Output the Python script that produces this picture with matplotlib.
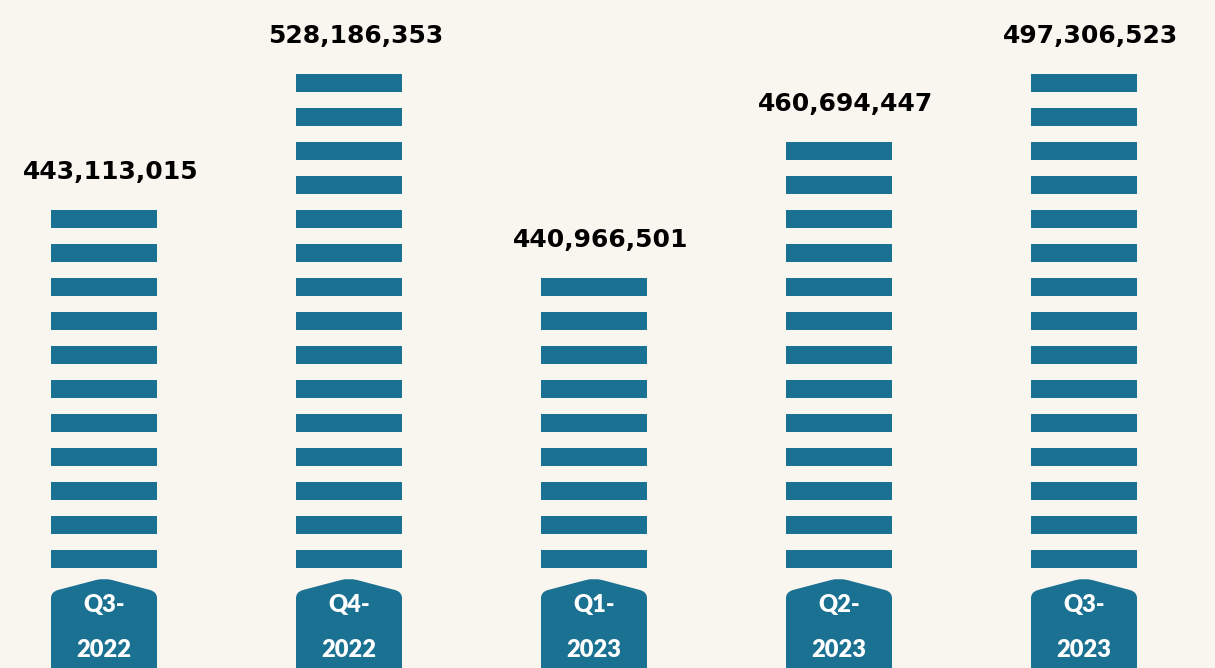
import matplotlib
matplotlib.use("Agg")
import matplotlib.pyplot as plt
import numpy as np
from matplotlib.path import Path
from matplotlib.patches import PathPatch
import matplotlib.transforms as mtransforms

# ---- data ----
quarters = ["Q3-", "Q4-", "Q1-", "Q2-", "Q3-"]
years = ["2022", "2022", "2023", "2023", "2023"]
values = [443113015, 528186353, 440966501, 460694447, 497306523]
segments = [11, 15, 9, 13, 15]   # number of stacked blocks in each column

BAR = "#1b7191"
BG = "#f9f6ef"

W, H, DPI = 12.15, 6.68, 100
fig = plt.figure(figsize=(W, H), dpi=DPI, facecolor=BG)
ax = fig.add_axes([0, 0, 1, 1])
ax.set_facecolor(BG)

px_x = 245.0   # pixels per category
px_y = 34.0    # pixels per block pitch
x0_px = 104.0  # first centre
base_px = 100.0  # baseline height from bottom
ax.set_xlim(-x0_px / px_x, (W * DPI - x0_px) / px_x)
ax.set_ylim(-base_px / px_y, (H * DPI - base_px) / px_y)
ax.axis("off")

x = np.arange(len(values))
bar_w = 106 / px_x
seg_h = 18 / px_y

for xi, n in zip(x, segments):
    idx = np.arange(n)
    ax.bar(np.full(n, xi), np.full(n, seg_h), bottom=idx, width=bar_w,
           color=BAR, linewidth=0)

# value labels
for xi, n, v in zip(x, segments, values):
    ax.annotate(f"{v:,}", xy=(xi, n - 1 + seg_h), xytext=(7, 38),
                textcoords="offset pixels", ha="center", va="center",
                fontsize=18, fontweight="bold", color="black",
                family="DejaVu Sans")

# badges (path in inches relative to anchor)
def badge_path():
    p = lambda dx, dy: (dx / DPI, dy / DPI)  # pixel offsets -> inches (y up)
    verts = [p(-53, -120), p(-53, -22), p(-53, -16), p(-46, -14),
             p(-8, -4), p(0, -2), p(8, -4),
             p(46, -14), p(53, -16), p(53, -22), p(53, -120), p(-53, -120)]
    codes = [Path.MOVETO, Path.LINETO, Path.CURVE3, Path.CURVE3,
             Path.LINETO, Path.CURVE3, Path.CURVE3,
             Path.LINETO, Path.CURVE3, Path.CURVE3, Path.LINETO, Path.CLOSEPOLY]
    return Path(verts, codes)

bp = badge_path()
for xi, q, yr in zip(x, quarters, years):
    trans = fig.dpi_scale_trans + mtransforms.ScaledTranslation(xi, -8 / px_y, ax.transData)
    ax.add_patch(PathPatch(bp, transform=trans, facecolor=BAR, edgecolor="none",
                           clip_on=False))
    ax.annotate(q, xy=(xi, 0), xytext=(0, -37), textcoords="offset pixels",
                ha="center", va="center", fontsize=17, fontweight="heavy",
                color="white", family="Lato")
    ax.annotate(yr, xy=(xi, 0), xytext=(0, -82), textcoords="offset pixels",
                ha="center", va="center", fontsize=17, fontweight="heavy",
                color="white", family="Lato")

fig.savefig("out.png", dpi=DPI, facecolor=BG)
